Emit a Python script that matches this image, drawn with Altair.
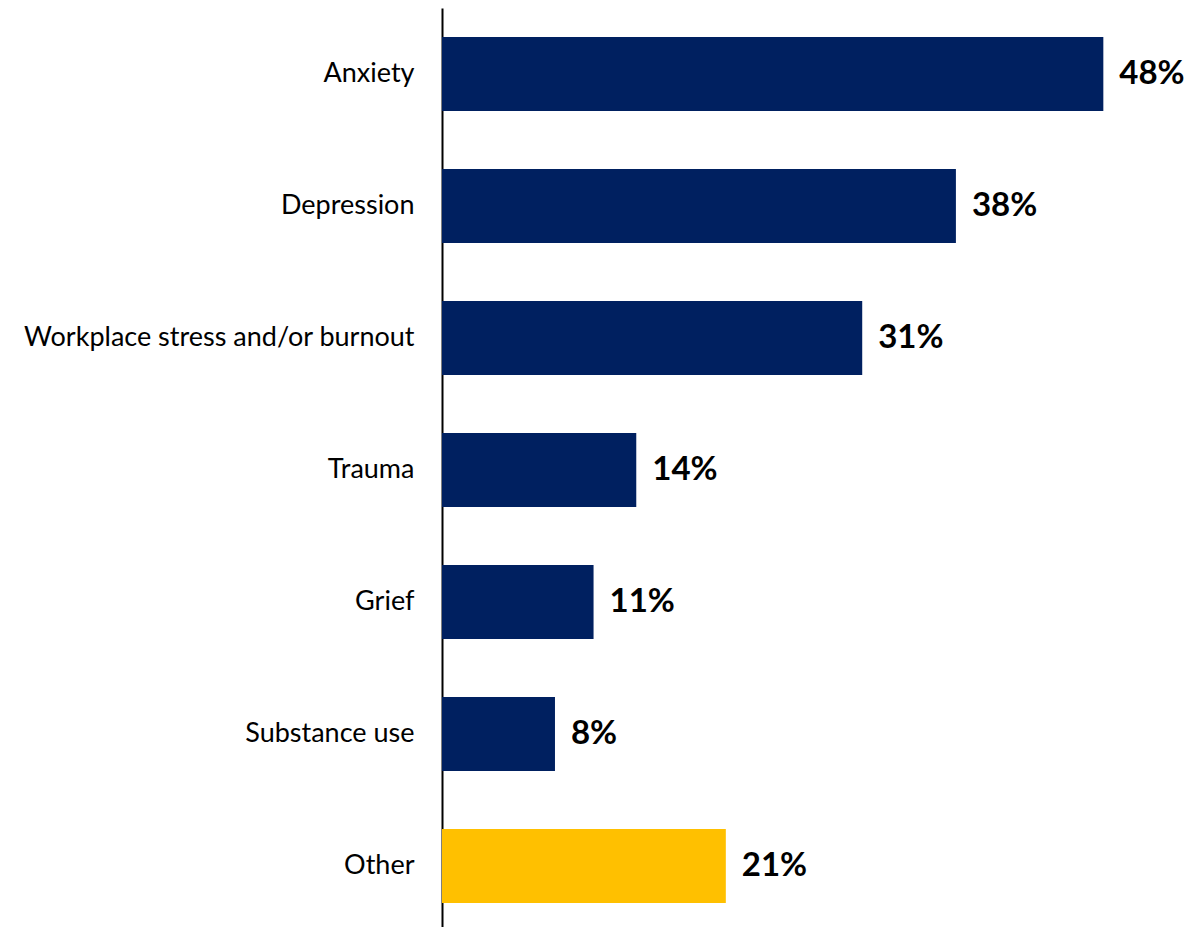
import altair as alt
import pandas as pd

categories = ["Anxiety", "Depression", "Workplace stress and/or burnout", "Trauma", "Grief", "Substance use", "Other"]
values = [48, 37.3, 30.5, 14.1, 11.0, 8.2, 20.6]
labels = ["48%", "38%", "31%", "14%", "11%", "8%", "21%"]
colors = ["#002060"] * 6 + ["#FFC000"]

df = pd.DataFrame({"cat": categories, "val": values, "lab": labels, "col": colors})

y = alt.Y("cat:N", sort=categories, title=None,
          scale=alt.Scale(paddingInner=0.44, paddingOuter=0.22),
          axis=alt.Axis(domain=True, domainColor="#000000", domainWidth=2, ticks=False,
                        labelFont="Lato", labelFontSize=27, labelColor="#000000",
                        labelPadding=28, labelLimit=500))
x = alt.X("val:Q", title=None, scale=alt.Scale(domain=[0, 54], nice=False),
          axis=None)

bars = alt.Chart(df).mark_bar().encode(x=x, y=y, color=alt.Color("col:N", scale=None))
text = alt.Chart(df).mark_text(align="left", baseline="middle", dx=16, font="Lato",
                               fontSize=33, fontWeight="bold", color="#000000").encode(
    x=x, y=alt.Y("cat:N", sort=categories), text="lab:N")

chart = (bars + text).properties(
    width=744, height=924,
    autosize=alt.AutoSizeParams(type="none"),
    padding={"left": 442, "top": 8, "right": 0, "bottom": 0},
).configure_view(stroke=None)

chart.save("out.html", embed_options={"renderer": "svg", "actions": False})
